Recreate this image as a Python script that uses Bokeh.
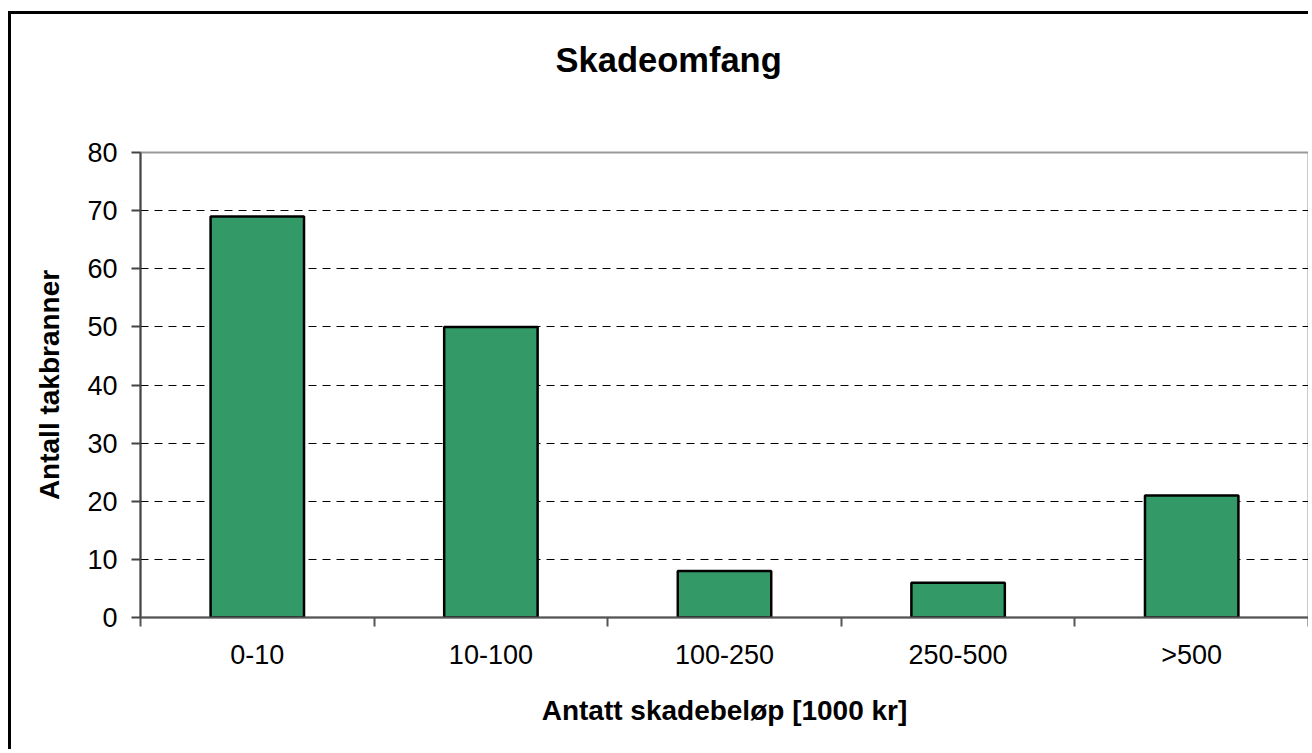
from bokeh.plotting import figure
from bokeh.models import ColumnDataSource, Range1d, FixedTicker, Title
from bokeh.embed import file_html
from bokeh.resources import INLINE

# ---- data ----
categories = ["0-10", "10-100", "100-250", "250-500", ">500"]
values = [69, 50, 8, 6, 21]
y_ticks = [0, 10, 20, 30, 40, 50, 60, 70, 80]

title_text = "Skadeomfang"
x_title = "Antatt skadebeløp [1000 kr]"
y_title = "Antall takbranner"

FONT = "Liberation Sans"

positions = [i + 0.5 for i in range(len(categories))]
source = ColumnDataSource(dict(x=positions, top=values, cat=categories))

W, H = 1300, 738
p = figure(width=W, height=H, output_backend="svg", toolbar_location=None,
           x_range=Range1d(0, len(categories)), y_range=Range1d(0, 80),
           min_border_left=129, min_border_right=3, min_border_top=138,
           min_border_bottom=135)
p.styles = {"border-left": "3px solid black", "border-top": "3px solid black",
            "margin-top": "11px", "margin-left": "8px"}

p.vbar(x="x", top="top", width=0.4, bottom=0, source=source,
       fill_color="#339966", line_color="black", line_width=2.5)

# title: spacer panel next to the frame, then the real title above it
p.title.visible = False
p.add_layout(Title(text=" ", text_font=FONT, text_font_size="20px", standoff=40), "above")
p.add_layout(Title(text=title_text, align="left", offset=415,
                   text_font=FONT, text_font_size="34.5px", text_font_style="bold",
                   text_color="black", standoff=20), "above")

# y axis
ya = p.yaxis[0]
ya.ticker = FixedTicker(ticks=y_ticks)
ya.axis_label = y_title
ya.axis_label_text_font = FONT
ya.axis_label_text_font_size = "28px"
ya.axis_label_text_font_style = "bold"
ya.axis_label_text_color = "black"
ya.axis_label_standoff = 19
ya.major_label_text_font = FONT
ya.major_label_text_font_size = "27px"
ya.major_label_text_color = "black"
ya.major_label_standoff = 14
ya.major_tick_out = 9
ya.major_tick_in = 0
ya.minor_tick_out = 0
ya.minor_tick_in = 0
ya.axis_line_color = "#444444"
ya.axis_line_width = 2
ya.major_tick_line_color = "#444444"
ya.major_tick_line_width = 2

# x axis: labels at category centres, ticks at boundaries
xa = p.xaxis[0]
xa.ticker = FixedTicker(ticks=positions, minor_ticks=list(range(len(categories) + 1)))
xa.major_label_overrides = {pos: c for pos, c in zip(positions, categories)}
xa.axis_label = x_title
xa.axis_label_text_font = FONT
xa.axis_label_text_font_size = "28px"
xa.axis_label_text_font_style = "bold"
xa.axis_label_text_color = "black"
xa.axis_label_standoff = 22
xa.major_label_text_font = FONT
xa.major_label_text_font_size = "27px"
xa.major_label_text_color = "black"
xa.major_label_standoff = 13
xa.major_tick_out = 0
xa.major_tick_in = 0
xa.minor_tick_out = 9
xa.minor_tick_in = 0
xa.minor_tick_line_color = "#555555"
xa.minor_tick_line_width = 2
xa.axis_line_color = "#555555"
xa.axis_line_width = 2

# grid
p.xgrid.visible = False
p.ygrid.ticker = FixedTicker(ticks=y_ticks[1:-1])
p.ygrid.grid_line_color = "black"
p.ygrid.grid_line_width = 1
p.ygrid.grid_line_dash = "8 6"

p.outline_line_color = "#999999"
p.outline_line_width = 2
p.background_fill_color = "white"
p.border_fill_color = "white"

open("out.html", "w").write(file_html(p, INLINE))
